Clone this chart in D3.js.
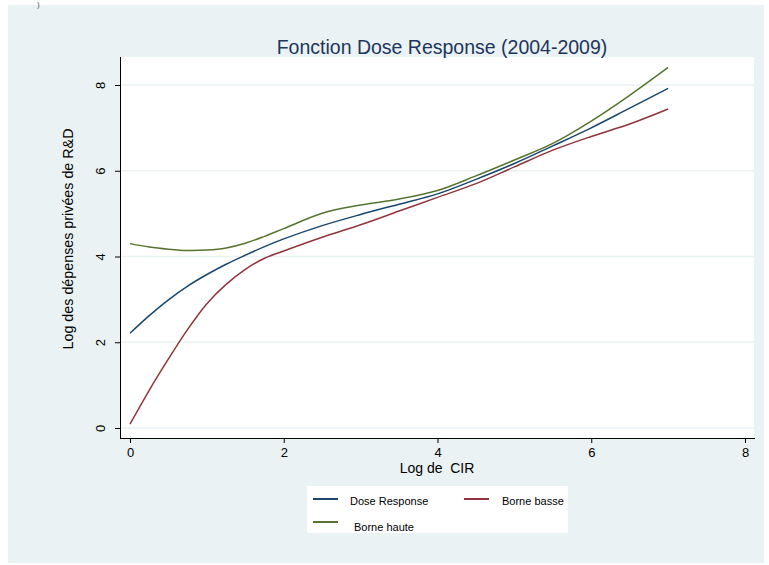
<!DOCTYPE html>
<html>
<head>
<meta charset="utf-8">
<script src="https://cdn.jsdelivr.net/npm/d3@7/dist/d3.min.js"></script>
<style>
  body { margin: 0; background: #fff; }
  text { font-family: "Liberation Sans", Arial, sans-serif; white-space: pre; }
  .narrow { font-family: "Liberation Sans Narrow", "Liberation Sans", Arial, sans-serif; }
</style>
</head>
<body>
<div id="chart"></div>
<script>
var log_cir = [0, 0.25, 0.5, 0.75, 1, 1.25, 1.5, 1.75, 2, 2.5, 3, 3.5, 4, 4.5, 5, 5.5, 6, 6.5, 7];
var dose_response = [2.21, 2.62, 2.99, 3.31, 3.58, 3.82, 4.03, 4.23, 4.41, 4.72, 4.98, 5.22, 5.46, 5.80, 6.17, 6.58, 7.00, 7.46, 7.92];
var borne_basse = [0.09, 0.88, 1.61, 2.30, 2.90, 3.35, 3.70, 3.96, 4.13, 4.45, 4.74, 5.06, 5.38, 5.70, 6.09, 6.48, 6.80, 7.09, 7.44];
var borne_haute = [4.30, 4.22, 4.17, 4.14, 4.15, 4.20, 4.31, 4.47, 4.65, 5.01, 5.20, 5.34, 5.54, 5.88, 6.25, 6.64, 7.16, 7.76, 8.41];
var x_ticks = [0, 2, 4, 6, 8];
var y_ticks = [0, 2, 4, 6, 8];

var series = [
    { name: 'Dose Response', values: dose_response, color: '#1a476f' },
    { name: 'Borne basse', values: borne_basse, color: '#90353b' },
    { name: 'Borne haute', values: borne_haute, color: '#55752f' }
];

var chart_width = 769;
var chart_height = 565;

var svg = d3.select('#chart')
    .append('svg')
    .attr('width', chart_width)
    .attr('height', chart_height)

// graph region
svg.append('rect')
    .attr('x', 8).attr('y', 5)
    .attr('width', 756).attr('height', 558)
    .attr('fill', '#eaf2f3')

// stray mark at the top edge of the scan
svg.append('text')
    .attr('x', 37).attr('y', 7)
    .attr('font-size', 8)
    .attr('fill', '#555')
    .text(')')

var plot = { left: 120, right: 754, top: 57, bottom: 438 };

svg.append('rect')
    .attr('x', plot.left).attr('y', plot.top)
    .attr('width', plot.right - plot.left)
    .attr('height', plot.bottom - plot.top)
    .attr('fill', '#fff')

var x_scale = d3.scaleLinear()
    .domain([0, 8])
    .range([130, 745])

var y_scale = d3.scaleLinear()
    .domain([0, 8])
    .range([428, 85])

// grid
svg.selectAll('.grid')
    .data(y_ticks)
    .enter()
    .append('line')
    .attr('x1', plot.left).attr('x2', plot.right)
    .attr('y1', function (d) { return y_scale(d) })
    .attr('y2', function (d) { return y_scale(d) })
    .attr('stroke', '#eaf2f3')
    .attr('stroke-width', 1.6)

// axes
var x_axis = d3.axisBottom(x_scale).tickValues(x_ticks).tickSize(5).tickPadding(5).tickFormat(d3.format('d'));
var y_axis = d3.axisLeft(y_scale).tickValues(y_ticks).tickSize(5).tickFormat(d3.format('d'));

var gx = svg.append('g')
    .attr('transform', 'translate(0,' + plot.bottom + ')')
    .call(x_axis)
gx.select('.domain').attr('d', 'M' + plot.left + ',0.5H' + (plot.right + 1))
gx.selectAll('text').attr('class', 'narrow').attr('font-size', 13).attr('fill', '#000')

var gy = svg.append('g')
    .attr('transform', 'translate(' + plot.left + ',0)')
    .call(y_axis)
gy.select('.domain').attr('d', 'M0.5,' + plot.top + 'V' + plot.bottom)
gy.selectAll('text')
    .attr('font-size', 13)
    .attr('fill', '#000')
    .attr('x', null)
    .attr('y', 0)
    .attr('dy', '0em')
    .attr('text-anchor', 'middle')
    .attr('transform', 'translate(-15,0) rotate(-90)')

// lines
var line = d3.line()
    .x(function (d) { return x_scale(d[0]) })
    .y(function (d) { return y_scale(d[1]) })
    .curve(d3.curveCatmullRom.alpha(0.5))

svg.selectAll('.series')
    .data(series)
    .enter()
    .append('path')
    .attr('d', function (s) {
        return line(log_cir.map(function (x, i) { return [x, s.values[i]] }))
    })
    .attr('fill', 'none')
    .attr('stroke', function (s) { return s.color })
    .attr('stroke-width', 1.5)

// titles
svg.append('text')
    .attr('x', 442).attr('y', 54)
    .attr('text-anchor', 'middle')
    .attr('font-size', 19.5)
    .attr('fill', '#1e3560')
    .text('Fonction Dose Response (2004-2009)')

svg.append('text')
    .attr('transform', 'translate(73,239) rotate(-90)')
    .attr('text-anchor', 'middle')
    .attr('font-size', 14.3)
    .attr('fill', '#000')
    .text('Log des dépenses privées de R&D')

svg.append('text')
    .attr('class', 'narrow')
    .attr('x', 437).attr('y', 473)
    .attr('text-anchor', 'middle')
    .attr('font-size', 14)
    .attr('fill', '#000')
    .text('Log de  CIR')

// legend
svg.append('rect')
    .attr('x', 307).attr('y', 486)
    .attr('width', 261).attr('height', 47)
    .attr('fill', '#fff')

var legend_pos = [
    { lx: 313, tx: 350, y: 499 },
    { lx: 464, tx: 502, y: 499 },
    { lx: 313, tx: 354, y: 522 }
];

var legend = svg.selectAll('.legend')
    .data(series)
    .enter()
    .append('g')

legend.append('line')
    .attr('x1', function (d, i) { return legend_pos[i].lx })
    .attr('x2', function (d, i) { return legend_pos[i].lx + 25 })
    .attr('y1', function (d, i) { return legend_pos[i].y })
    .attr('y2', function (d, i) { return legend_pos[i].y })
    .attr('stroke', function (d) { return d.color })
    .attr('stroke-width', 2)

legend.append('text')
    .attr('class', 'narrow')
    .attr('x', function (d, i) { return legend_pos[i].tx })
    .attr('y', function (d, i) { return legend_pos[i].y + 6 + (i == 2 ? 3 : 0) })
    .attr('font-size', 11)
    .attr('fill', '#000')
    .text(function (d) { return d.name })
</script>
</body>
</html>
